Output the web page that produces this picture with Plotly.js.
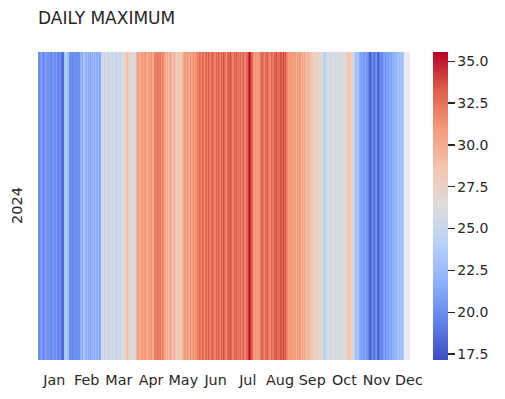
<!DOCTYPE html>
<html>
<head>
<meta charset="utf-8">
<script src="https://cdn.plot.ly/plotly-3.0.1.min.js"></script>
<style>html,body{margin:0;padding:0;background:#fff;}#chart{width:505px;height:399px;}</style>
</head>
<body>
<div id="chart"></div>
<script>
// Daily maximum values (one column per day, final days missing)
const dailyMax = [
  20.3, 19.8, 20.5, 21.4, 20.1, 19.6, 20.2, 21.0, 20.4, 19.9,
  20.6, 20.0, 19.5, 20.3, 20.8, 19.7, 20.1, 20.9, 19.8, 19.4,
  19.9, 20.4, 18.9, 18.2, 18.6, 22.8, 23.9, 22.4, 23.1, 20.2,
  19.8, 20.3, 19.6, 20.1, 20.4, 19.9, 20.2, 19.7, 20.5, 20.0,
  21.8, 22.6, 21.2, 23.4, 22.1, 21.6, 22.9, 21.4, 22.2, 21.0,
  22.4, 21.7, 23.0, 21.3, 22.8, 21.5, 21.9, 22.3, 21.1, 21.6,
  25.6, 26.0, 24.8, 25.4, 26.3, 25.1, 24.6, 25.8, 26.1, 25.3,
  24.9, 25.7, 26.2, 25.0, 24.4, 25.5, 26.0, 25.2, 24.7, 25.9,
  26.4, 25.8, 27.2, 28.6, 29.4, 28.3, 27.6, 26.8, 25.6, 27.1,
  26.5, 25.4, 25.9, 29.5, 30.4, 30.8, 29.9, 30.6, 31.2, 30.3,
  30.9, 31.4, 30.2, 29.8, 30.7, 31.0, 30.5, 31.3, 29.9, 30.4,
  31.8, 32.2, 31.5, 32.6, 31.9, 32.4, 31.2, 32.0, 31.6, 30.8,
  30.1, 29.6, 30.3, 28.9, 29.8, 30.5, 29.4, 28.7, 29.2, 30.0,
  28.2, 27.8, 29.0, 28.4, 27.5, 28.8, 29.3, 30.2, 30.8, 31.1,
  30.4, 31.0, 30.6, 29.9, 31.3, 30.2, 30.7, 31.5, 30.9, 31.2,
  32.4, 31.6, 33.0, 32.2, 31.8, 33.2, 32.6, 31.4, 32.9, 33.1,
  32.0, 33.4, 32.5, 31.7, 32.8, 33.6, 32.3, 31.9, 33.0, 32.4,
  33.2, 32.6, 31.8, 33.5, 32.1, 33.8, 32.9, 32.2, 31.6, 32.7,
  33.4, 32.8, 34.0, 32.5, 31.9, 33.1, 32.4, 33.6, 32.0, 32.8,
  32.2, 33.0, 31.8, 32.6, 33.3, 32.1, 31.5, 32.9, 33.2, 34.2,
  35.5, 34.4, 33.0, 31.2, 30.6, 31.4, 30.8, 31.0, 30.4, 31.6,
  31.9, 32.8, 33.2, 32.4, 31.6, 33.0, 32.6, 33.5, 32.2, 31.8,
  33.1, 32.5, 31.7, 33.4, 32.9, 33.7, 32.3, 33.0, 32.6, 33.9,
  33.3, 32.7, 34.1, 32.8, 33.5, 32.2, 31.6, 30.9, 31.3, 30.7,
  31.0, 30.4, 31.2, 30.6, 29.8, 30.9, 30.3, 31.1, 30.5, 29.9,
  30.2, 29.6, 30.4, 29.3, 28.8, 29.5, 28.6, 29.1, 28.3, 27.9,
  27.4, 27.8, 26.9, 27.6, 28.1, 27.2, 26.8, 27.5, 26.6, 27.0,
  24.2, 23.8, 24.6, 25.9, 26.3, 25.7, 26.0, 25.5, 26.4, 25.8,
  26.1, 25.6, 26.5, 25.9, 26.2, 25.4, 26.0, 25.7, 26.3, 25.8,
  26.6, 27.2, 28.4, 28.9, 27.8, 28.5, 26.9, 26.2, 25.6, 24.8,
  23.2, 22.6, 23.8, 22.9, 21.8, 21.2, 20.9, 21.5, 20.6, 21.3,
  20.8, 20.2, 19.6, 18.4, 17.8, 19.2, 20.0, 19.4, 18.6, 19.8,
  20.4, 18.3, 17.9, 19.0, 20.3, 19.5, 20.6, 21.0, 20.2, 20.7,
  21.2, 20.5, 21.6, 20.9, 21.3, 22.0, 21.4, 22.6, 21.8, 22.3,
  22.8, 23.4, 22.5, 23.1, 22.7, 23.6,
  null, null, null, null, null, null
];
const yearLabels = ["2024"];
const monthLabels = ["Jan","Feb","Mar","Apr","May","Jun","Jul","Aug","Sep","Oct","Nov","Dec"];
const colorbarTicks = [17.5, 20.0, 22.5, 25.0, 27.5, 30.0, 32.5, 35.0];

const dayIndex = dailyMax.map((_, i) => i);
const monthTickPos = monthLabels.map((_, i) => 15 + 30.5 * i);

const coolwarm = [
  [0.0, '#3b4cc0'], [0.125, '#6282ea'], [0.25, '#8db0fe'], [0.375, '#b8d0f9'],
  [0.5, '#dddcdc'], [0.625, '#f5c4ad'], [0.75, '#f49a7b'], [0.875, '#de604d'], [1.0, '#b40426']
];

const trace = {
  type: 'heatmap',
  x: dayIndex,
  y: yearLabels,
  z: [dailyMax],
  colorscale: coolwarm,
  zmin: 17.14,
  zmax: 35.55,
  hoverongaps: false,
  colorbar: {
    x: 1.062, xanchor: 'left', xpad: 0,
    y: 0.5, yanchor: 'middle', len: 1, lenmode: 'fraction', ypad: 0,
    thickness: 15, outlinewidth: 0,
    tickvals: colorbarTicks,
    ticktext: colorbarTicks.map(v => v.toFixed(1)),
    ticks: 'outside', ticklen: 7, tickwidth: 1.3, tickcolor: '#262626',
    tickfont: {family: 'DejaVu Sans', size: 14, color: '#262626'}
  }
};

const layout = {
  width: 505, height: 399,
  margin: {l: 38, r: 95, t: 52, b: 39},
  paper_bgcolor: '#ffffff',
  plot_bgcolor: '#eaeaf2',
  font: {family: 'DejaVu Sans', size: 14, color: '#262626'},
  title: {text: 'DAILY MAXIMUM', x: 38/505, xanchor: 'left', y: 1 - 18/399, yanchor: 'middle',
          font: {family: 'DejaVu Sans', size: 17, color: '#262626'}},
  xaxis: {
    range: [-0.5, dailyMax.length - 0.5],
    tickvals: monthTickPos, ticktext: monthLabels,
    ticks: 'outside', ticklen: 7, tickcolor: 'rgba(0,0,0,0)',
    showgrid: false, zeroline: false, showline: false,
    tickfont: {family: 'DejaVu Sans', size: 14.3, color: '#262626'}
  },
  yaxis: {
    showticklabels: false, ticks: '', showgrid: false, zeroline: false, showline: false
  },
  annotations: [{
    text: yearLabels[0], xref: 'paper', yref: 'paper', x: (17 - 38) / 372, y: 0.5,
    xanchor: 'center', yanchor: 'middle', textangle: -90, showarrow: false,
    font: {family: 'DejaVu Sans', size: 14.5, color: '#262626'}
  }]
};

Plotly.newPlot('chart', [trace], layout, {staticPlot: true, displayModeBar: false});
</script>
</body>
</html>
